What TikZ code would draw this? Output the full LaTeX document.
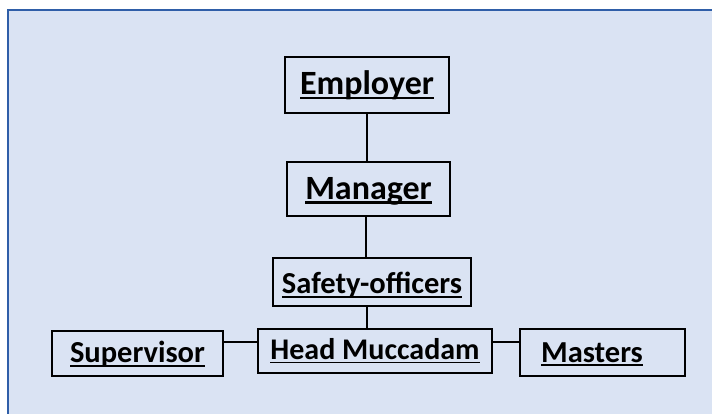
\documentclass[tikz,border=0pt]{standalone}
\usepackage{fontspec}
\setmainfont{Carlito}
\definecolor{panelfill}{HTML}{DAE3F3}
\definecolor{panelline}{HTML}{2F5EA8}
\newcommand{\ultext}[1]{\setbox0=\hbox{#1}\leavevmode\rlap{\usebox0}\rule[-0.13em]{\wd0}{0.06em}}
\begin{document}
\begin{tikzpicture}[
    x=1pt, y=-1pt,
    every node/.style={font=\bfseries},
    orgbox/.style={draw=black, line width=1.9pt, inner sep=0pt, align=center},
    link/.style={line width=2pt},
]
\useasboundingbox (0,0) rectangle (712,414);
% Panel
\fill[panelfill] (8,10) rectangle (712,414);
\draw[panelline, line width=2.2pt] (8,414) -- (8,10) -- (712,10);

% Chain of command (top)
\node[orgbox, minimum width=164pt, minimum height=56pt, font=\bfseries\fontsize{34}{37}\selectfont] (E) at (367,85) {\ultext{Employer}};
\node[orgbox, minimum width=163pt, minimum height=54pt, text height=26pt, font=\bfseries\fontsize{34}{37}\selectfont] (M) at (368.5,189) {\ultext{Manager}};
\node[orgbox, minimum width=198pt, minimum height=48pt, text height=28pt, font=\bfseries\fontsize{30.5}{33}\selectfont] (SO) at (372,282) {\ultext{Safety-officers}};
\draw[link] (E.south) -- (E.south |- M.north);
\draw[link] ([xshift=-2.5pt]M.south) -- ([xshift=-2.5pt]M.south |- SO.north);

% Bottom row
\node[orgbox, minimum width=234pt, minimum height=44pt, font=\bfseries\fontsize{30}{33}\selectfont] (H) at (375,351) {\ultext{Head Muccadam}};
\node[orgbox, minimum width=171pt, minimum height=45pt, text height=23pt, font=\bfseries\fontsize{30.5}{33}\selectfont] (S) at (137.5,353.5) {\ultext{Supervisor}};
\node[orgbox, minimum width=165pt, minimum height=47pt, text height=23pt, font=\bfseries\fontsize{30.5}{33}\selectfont] (MA) at (602.5,352.5) {\ultext{Masters}\hspace*{21pt}};
\draw[link] ([xshift=-5pt]SO.south) -- ([xshift=-5pt]SO.south |- H.north);
\draw[link] ([yshift=9pt]H.west) -- ([yshift=9pt]H.west -| S.east);
\draw[link] ([yshift=9pt]H.east) -- ([yshift=9pt]H.east -| MA.west);
\end{tikzpicture}
\end{document}
